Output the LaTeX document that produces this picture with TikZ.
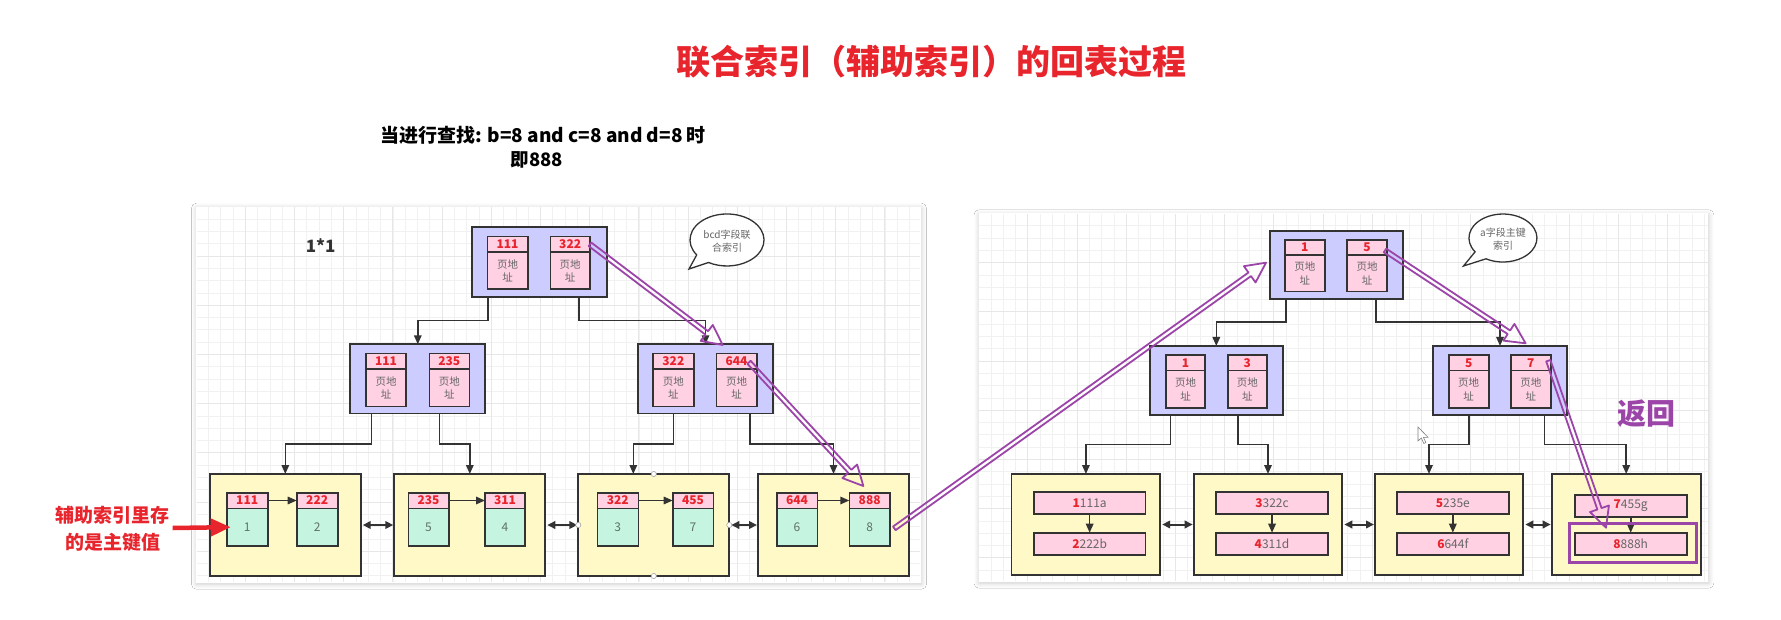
\documentclass[tikz,border=0pt]{standalone}
\usepackage{fontspec}
\setmainfont{Noto Sans CJK SC}
\usetikzlibrary{calc,arrows.meta,shadows.blur}
\definecolor{lav}{HTML}{CCCCFF}
\definecolor{pinkc}{HTML}{FFD1E3}
\definecolor{yel}{HTML}{FFF9C8}
\definecolor{mint}{HTML}{C5F5E0}
\definecolor{redt}{HTML}{E8242C}
\definecolor{purp}{HTML}{9C45A8}
\definecolor{edgec}{HTML}{333333}
\definecolor{gridc}{HTML}{F1F1F1}
\definecolor{gridm}{HTML}{E7E7E7}
\definecolor{txtg}{HTML}{666666}
\definecolor{valg}{HTML}{5F6F6A}

\tikzset{
  bnode/.style={draw=edgec, line width=1.8pt, fill=lav},
  leafbox/.style={draw=edgec, line width=1.8pt, fill=yel},
  cellp/.style={draw=edgec, line width=1.6pt, fill=pinkc},
  cellg/.style={draw=edgec, line width=1.6pt, fill=mint},
  hlbox/.style={draw=purp, line width=3.4pt},
  numtxt/.style={font=\fontsize{12}{13}\selectfont\bfseries, text=redt, inner sep=0pt},
  addrtxt/.style={font=\fontsize{10.5}{13.3}\selectfont, text=txtg, align=center, inner sep=0pt},
  valtxt/.style={font=\fontsize{12}{13}\selectfont, text=valg, inner sep=0pt},
  rectxt/.style={font=\fontsize{12}{13}\selectfont, text=txtg, inner sep=0pt},
  conn/.style={draw=edgec, line width=1.6pt, -{Triangle[length=9pt,width=7.5pt]}},
  dconn/.style={draw=edgec, line width=2pt, {Triangle[length=8pt,width=7.5pt]}-{Triangle[length=8pt,width=7.5pt]}},
  flex/.style={draw=purp, line width=1.8pt, line join=round},
  redarr/.style={draw=redt, line width=4.5pt, -{Triangle[length=20pt,width=17pt]}},
  bubble/.style={draw=edgec, line width=1.3pt, fill=white},
  bubtxt/.style={font=\fontsize{10}{13.5}\selectfont, text=txtg, align=center, inner sep=0pt},
  handle/.style={draw=gray!70, fill=white, line width=0.6pt},
  gridl/.style={draw=gridc, line width=0.5pt},
  gridM/.style={draw=gridm, line width=0.7pt}
}

\newcommand\drawbox[6]{%
  \pgfmathsetmacro\dbxc{(#3+#5)/2}%
  \pgfmathsetmacro\dbyc{(#4+#6)/2}%
  \pgfmathsetmacro\dbw{#5-#3}%
  \pgfmathsetmacro\dbh{#6-#4}%
  \node[#1, minimum width=\dbw pt, minimum height=\dbh pt, inner sep=0pt, outer sep=0pt] (#2) at (\dbxc,\dbyc) {};}

\newcommand\icell[7]{%
  \drawbox{cellp}{#1h}{#2}{#3}{#4}{#6}%
  \drawbox{cellp}{#1b}{#2}{#6}{#4}{#5}%
  \node[numtxt] (#1hn) at (#1h) {#7};%
  \node[addrtxt] (#1bn) at (#1b) {页地\\址};}

\newcommand\lcell[8]{%
  \drawbox{cellp}{#1h}{#2}{#3}{#4}{#6}%
  \drawbox{cellg}{#1b}{#2}{#6}{#4}{#5}%
  \node[numtxt] (#1hn) at (#1h) {#7};%
  \node[valtxt] (#1bn) at (#1b) {#8};}

\newcommand\rec[7]{%
  \drawbox{cellp}{#1}{#2}{#3}{#4}{#5}%
  \node[rectxt] (#1n) at (#1) {\textcolor{redt}{\bfseries #6}#7};}

\newcommand\tconn[5]{%
  \draw[conn] (#1.south -| #2,0) -- (#2,#5) -- (#4,#5) -- (#3.north -| #4,0);}

\newcommand\flexarr[2]{%
  \coordinate (fxb) at ($(#2)!20pt!(#1)$);
  \draw[flex] ($(#1)!2.2pt!90:(#2)$) -- ($(fxb)!2.2pt!90:(#2)$) -- ($(fxb)!10pt!90:(#2)$) -- (#2)
     -- ($(fxb)!10pt!-90:(#2)$) -- ($(fxb)!2.2pt!-90:(#2)$) -- ($(#1)!2.2pt!-90:(#2)$) -- cycle;}

\begin{document}
\begin{tikzpicture}[x=1pt,y=-1pt]
\useasboundingbox (0,0) rectangle (1781,620);
\fill[white] (0,0) rectangle (1781,620);

% panels
\fill[white, blur shadow={shadow xshift=0.5pt, shadow yshift=-1.5pt, shadow blur radius=5pt, shadow blur steps=6, shadow opacity=20}] (196,206.7) rectangle (921,582.7);
\fill[white, blur shadow={shadow xshift=0.5pt, shadow yshift=-1.5pt, shadow blur radius=5pt, shadow blur steps=6, shadow opacity=20}] (978.5,213.3) rectangle (1708.3,581.7);
\foreach \x in {208.3,220.6,...,920} \draw[gridl] (\x,207.5) -- (\x,582);
\foreach \y in {219,231.3,...,582} \draw[gridl] (196.8,\y) -- (920.2,\y);
\foreach \x in {245.2,294.4,...,920} \draw[gridM] (\x,207.5) -- (\x,582);
\foreach \y in {255.9,305.1,...,582} \draw[gridM] (196.8,\y) -- (920.2,\y);
\foreach \x in {990.8,1003.1,...,1707.5} \draw[gridl] (\x,214.1) -- (\x,581);
\foreach \y in {225.6,237.9,...,581} \draw[gridl] (979.3,\y) -- (1707.5,\y);
\foreach \x in {1027.7,1076.9,...,1707.5} \draw[gridM] (\x,214.1) -- (\x,581);
\foreach \y in {262.5,311.7,...,581} \draw[gridM] (979.3,\y) -- (1707.5,\y);

% titles
\node[font=\fontsize{34}{40}\selectfont\bfseries, text=redt, inner sep=0pt] (title) at (931,62) {联合索引（辅助索引）的回表过程};
\node[font=\fontsize{19}{22}\selectfont\bfseries, inner sep=0pt] (sub1) at (543,135) {当进行查找: b=8 and c=8 and d=8 时};
\node[font=\fontsize{18.5}{22}\selectfont\bfseries, inner sep=0pt] (sub2) at (537,160) {即888};
\node[font=\fontsize{17}{20}\selectfont\bfseries, text=edgec, inner sep=0pt] (onexone) at (320.7,246) {1*1};
\node[font=\fontsize{19}{27}\selectfont\bfseries, text=redt, align=center, inner sep=0pt] (side) at (112.5,529) {辅助索引里存\\的是主键值};
\node[font=\fontsize{29}{30}\selectfont\bfseries, text=purp, inner sep=0pt] (ret) at (1646.7,413.3) {返回};

% bubbles
\draw[bubble] (696.7,254.9) arc[start angle=145, end angle=480, x radius=37, y radius=26] -- (689,269) -- cycle;
\node[bubtxt] (bub1) at (727,241) {bcd字段联\\合索引};
\draw[bubble] (1475.1,251.8) arc[start angle=145, end angle=480, x radius=34, y radius=24] -- (1463.5,266) -- cycle;
\node[bubtxt] (bub2) at (1503,239) {a字段主键\\索引};

% ===== left tree =====
\drawbox{bnode}{Lroot}{472}{227.3}{606.7}{297.3}
\icell{Lr1}{487.3}{236.7}{527.7}{289.3}{252}{111}
\icell{Lr2}{550.3}{236.7}{590}{289.3}{252}{322}
\drawbox{bnode}{Lm1}{350.3}{344.3}{485.3}{413.5}
\icell{Lm1a}{366}{353.7}{406}{406.3}{369.3}{111}
\icell{Lm1b}{429.3}{353.7}{469.3}{406.3}{369.3}{235}
\drawbox{bnode}{Lm2}{638.3}{344.3}{772.7}{413.5}
\icell{Lm2a}{652.7}{353.7}{694}{406.3}{369.3}{322}
\icell{Lm2b}{716.3}{353.7}{756.7}{406.3}{369.3}{644}

\drawbox{leafbox}{L1}{210}{474}{360.7}{576}
\lcell{L1a}{226.7}{492.7}{267.7}{546}{508.3}{111}{1}
\lcell{L1b}{296.7}{492.7}{337.7}{546}{508.3}{222}{2}
\drawbox{leafbox}{L2}{394.3}{474}{545.3}{576}
\lcell{L2a}{408.3}{492.7}{448.7}{546}{508.3}{235}{5}
\lcell{L2b}{485}{492.7}{525}{546}{508.3}{311}{4}
\drawbox{leafbox}{L3}{578.3}{474}{729.3}{576}
\lcell{L3a}{597.3}{492.7}{638.3}{546}{508.3}{322}{3}
\lcell{L3b}{672.7}{492.7}{713.3}{546}{508.3}{455}{7}
\drawbox{leafbox}{L4}{758}{474}{909}{576}
\lcell{L4a}{776.7}{492.7}{817.3}{546}{508.3}{644}{6}
\lcell{L4b}{849.3}{492.7}{890}{546}{508.3}{888}{8}

\tconn{Lroot}{488}{Lm1}{417.8}{320.7}
\tconn{Lroot}{578.7}{Lm2}{705.5}{320.7}
\tconn{Lm1}{371.4}{L1}{285.3}{443.7}
\tconn{Lm1}{439.3}{L2}{469.8}{443.7}
\tconn{Lm2}{673.5}{L3}{633.3}{443.7}
\tconn{Lm2}{750}{L4}{833.5}{443.7}

\foreach \k in {1,2,3,4} \draw[conn] (L\k ah.east) -- (L\k bh.west);
\draw[dconn] ([xshift=2pt]L1.east) -- ([xshift=-1pt]L2.west);
\draw[dconn] ([xshift=2pt]L2.east) -- ([xshift=-1pt]L3.west);
\draw[dconn] ([xshift=2pt]L3.east) -- ([xshift=-1pt]L4.west);
\foreach \a in {north,south,east,west} \draw[handle] (L3.\a) circle[radius=2.6pt];

% ===== right tree =====
\drawbox{bnode}{Rroot}{1270}{230.7}{1402.7}{299.3}
\icell{Rr1}{1285}{240}{1324.7}{291.7}{255}{1}
\icell{Rr2}{1347}{240}{1387}{291.7}{255}{5}
\drawbox{bnode}{Rm1}{1150}{346}{1282.7}{415}
\icell{Rm1a}{1166}{355.3}{1205}{407.7}{370.7}{1}
\icell{Rm1b}{1227.7}{355.3}{1267}{407.7}{370.7}{3}
\drawbox{bnode}{Rm2}{1433.3}{346}{1566.7}{415}
\icell{Rm2a}{1448.7}{355.3}{1488.7}{407.7}{370.7}{5}
\icell{Rm2b}{1511}{355.3}{1550.7}{407.7}{370.7}{7}

\drawbox{leafbox}{R1}{1011.5}{474}{1160.2}{575}
\rec{R1a}{1033.7}{492}{1145.6}{514}{1}{111a}
\rec{R1b}{1033.7}{532.7}{1145.6}{555}{2}{222b}
\drawbox{leafbox}{R2}{1193.7}{474}{1342.3}{575}
\rec{R2a}{1215.9}{492}{1328.2}{514}{3}{322c}
\rec{R2b}{1215.9}{532.7}{1328.2}{555}{4}{311d}
\drawbox{leafbox}{R3}{1375}{474}{1523.3}{575}
\rec{R3a}{1396.7}{492}{1509}{514}{5}{235e}
\rec{R3b}{1396.7}{532.7}{1509}{555}{6}{644f}
\drawbox{leafbox}{R4}{1551.7}{474}{1700.7}{575}
\rec{R4a}{1574.7}{495}{1686.7}{516.7}{7}{455g}
\rec{R4b}{1574.7}{532.7}{1686.7}{555}{8}{888h}

\tconn{Rroot}{1286}{Rm1}{1216.3}{322.3}
\tconn{Rroot}{1375.7}{Rm2}{1500}{322.3}
\tconn{Rm1}{1170.6}{R1}{1085.9}{444.5}
\tconn{Rm1}{1238}{R2}{1268}{444.5}
\tconn{Rm2}{1469}{R3}{1429}{444.5}
\tconn{Rm2}{1544.3}{R4}{1626.2}{444.5}

\foreach \k in {1,2,3,4} \draw[conn] (R\k a.south) -- (R\k b.north);
\draw[dconn] ([xshift=2pt]R1.east) -- ([xshift=-1pt]R2.west);
\draw[dconn] ([xshift=2pt]R2.east) -- ([xshift=-1pt]R3.west);
\draw[dconn] ([xshift=2pt]R3.east) -- ([xshift=-1pt]R4.west);

\drawbox{hlbox}{hl}{1569.3}{523.3}{1696.7}{562.3}

% mouse cursor
\draw[fill=white, draw=gray, line width=0.6pt] (1418,427) -- (1418,441) -- (1421.3,438) -- (1423.8,443.5) -- (1425.8,442.6) -- (1423.4,437.3) -- (1428,437.3) -- cycle;

% ===== purple path =====
\coordinate (p1s) at (Lr2h.east);
\coordinate (p1e) at ($(Lm2.north)+(17.2,0.7)$);
\flexarr{p1s}{p1e}
\coordinate (p2s) at ($(Lm2bh.center)+(12.5,0.8)$);
\coordinate (p2e) at ($(L4bh.north)+(-6.3,-6.7)$);
\flexarr{p2s}{p2e}
\coordinate (p3s) at ($(L4bb.east)+(4.3,1.2)$);
\coordinate (p3e) at ($(Rroot.west)+(-4,-2.3)$);
\flexarr{p3s}{p3e}
\coordinate (p4s) at ($(Rr2h.east)+(-2,3)$);
\coordinate (p4e) at ($(Rm2.north)+(25.6,-2.7)$);
\flexarr{p4s}{p4e}
\coordinate (p5s) at ($(Rm2bh.east)+(-2.4,-2.3)$);
\coordinate (p5e) at ($(R4b.north)+(-24.7,-5)$);
\flexarr{p5s}{p5e}

% red pointer
\draw[redarr] ($(side.east)+(3,-1)$) -- ($(L1ab.west)+(4,0)$);
\end{tikzpicture}
\end{document}
